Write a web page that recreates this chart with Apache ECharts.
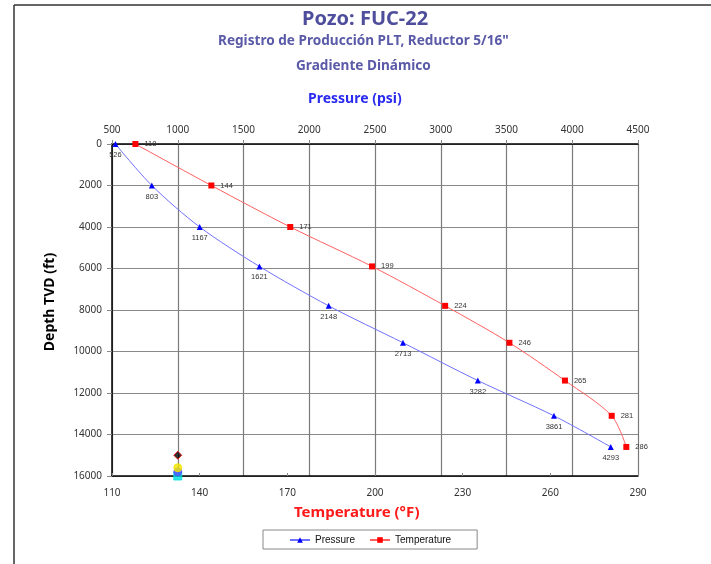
<!DOCTYPE html>
<html>
<head>
<meta charset="utf-8">
<script src="https://cdn.jsdelivr.net/npm/echarts@6/dist/echarts.min.js"></script>
<style>
  html, body { margin: 0; padding: 0; background: #fff; }
  #chart { width: 711px; height: 564px; }
</style>
</head>
<body>
<div id="chart"></div>
<script>
// Survey depths (ft TVD), shared by both logs
const depths = [0, 2000, 4000, 5900, 7800, 9580, 11400, 13100, 14600];
// Flowing pressure (psi) and temperature (°F) at each station
const pressure = [526, 803, 1167, 1621, 2148, 2713, 3282, 3861, 4293];
const temperature = [118, 144, 171, 199, 224, 246, 265, 281, 286];

// Axis ranges / ticks
const pressureTicks = { min: 500, max: 4500, step: 500 };
const tempTicks = { min: 110, max: 290, step: 30 };
const depthTicks = { min: 0, max: 16000, step: 2000 };

// Reference markers at the bottom of the track
const refPressure = [1000, 1000, 1000, 1000];
const refDepth = [15000, 15600, 15800, 16000];
const refColors = ['#000000', '#f2e600', '#5050ff', '#00e0e0'];
const refShapes = ['diamond', 'circle', 'circle', 'rect'];

const font = 'Noto Sans';
const plain = v => String(v);
const chart = echarts.init(document.getElementById('chart'));

const pData = pressure.map((p, i) => [p, depths[i]]);
const tData = temperature.map((t, i) => [t, depths[i]]);

const refSeries = refPressure.map((p, i) => ({
  type: 'scatter',
  xAxisIndex: 0,
  yAxisIndex: 0,
  data: [[p, refDepth[i]]],
  symbol: refShapes[i],
  symbolSize: 8,
  itemStyle: { color: refColors[i], borderColor: i === 0 ? '#ff0000' : refColors[i], borderWidth: 1 },
  silent: true,
  z: 5 - i
}));

chart.setOption({
  animation: false,
  backgroundColor: '#ffffff',
  textStyle: { fontFamily: font },
  grid: { left: 112, top: 144, width: 526, height: 332, containLabel: false },
  graphic: [
    { type: 'line', shape: { x1: 14, y1: 5, x2: 711, y2: 5 }, style: { stroke: '#333', lineWidth: 1.5 } },
    { type: 'line', shape: { x1: 14, y1: 5, x2: 14, y2: 564 }, style: { stroke: '#333', lineWidth: 1.5 } },
    { type: 'text', left: 302, top: 9, style: { text: 'Pozo: FUC-22', fontFamily: font, fontSize: 20, fontWeight: 'bold', fill: '#4e4e9c' } },
    { type: 'text', left: 218, top: 34, style: { text: 'Registro de Producción PLT, Reductor 5/16"', fontFamily: font, fontSize: 13.6, fontWeight: 'bold', fill: '#5a5aa8' } },
    { type: 'text', left: 296, top: 59, style: { text: 'Gradiente Dinámico', fontFamily: font, fontSize: 13.6, fontWeight: 'bold', fill: '#5a5aa8' } },
    { type: 'text', left: 308, top: 92, style: { text: 'Pressure (psi)', fontFamily: font, fontSize: 14, fontWeight: 'bold', fill: '#2b2bf0' } },
    { type: 'text', left: 294, top: 505, style: { text: 'Temperature (°F)', fontFamily: font, fontSize: 15, fontWeight: 'bold', fill: '#ff1a1a' } },
    { type: 'text', x: 50, y: 302, rotation: Math.PI / 2, style: { text: 'Depth TVD (ft)', fontFamily: font, fontSize: 14, fontWeight: 'bold', fill: '#000', align: 'center', verticalAlign: 'middle' } }
  ],
  legend: {
    left: 263, top: 530,
    itemGap: 14, itemWidth: 20, itemHeight: 7,
    padding: [5, 26, 4, 26],
    borderColor: '#888', borderWidth: 1,
    textStyle: { fontSize: 10, color: '#111', fontFamily: 'Liberation Sans' },
    data: ['Pressure', 'Temperature']
  },
  xAxis: [
    {
      type: 'value', position: 'top',
      min: pressureTicks.min, max: pressureTicks.max, interval: pressureTicks.step,
      axisLine: { show: true, lineStyle: { color: '#000', width: 1.5 } },
      axisTick: { show: true, length: 4, lineStyle: { color: '#888' } },
      axisLabel: { fontSize: 10, color: '#333', margin: 9, formatter: plain },
      splitLine: { show: true, lineStyle: { color: '#7a7a7a', width: 1.2 } }
    },
    {
      type: 'value', position: 'bottom',
      min: tempTicks.min, max: tempTicks.max, interval: tempTicks.step,
      axisLine: { show: true, onZero: false, lineStyle: { color: '#000', width: 1.5 } },
      axisTick: { show: true, inside: true, length: 3, lineStyle: { color: '#888' } },
      axisLabel: { fontSize: 10, color: '#333', margin: 12, formatter: plain },
      splitLine: { show: false }
    }
  ],
  yAxis: {
    type: 'value', inverse: true,
    min: depthTicks.min, max: depthTicks.max, interval: depthTicks.step,
    axisLine: { show: true, onZero: false, lineStyle: { color: '#000', width: 1.5 } },
    axisTick: { show: true, length: 5, lineStyle: { color: '#888' } },
    axisLabel: { fontSize: 10, color: '#333', margin: 10, formatter: plain },
    splitLine: { show: true, lineStyle: { color: '#8a8a8a', width: 1.2 } }
  },
  series: [
    {
      name: 'Pressure', type: 'line', xAxisIndex: 0, yAxisIndex: 0,
      data: pData, smooth: 0.3,
      symbol: 'triangle', symbolSize: 6,
      lineStyle: { color: '#7070ff', width: 1 },
      itemStyle: { color: '#0000ff' },
      label: {
        show: true, position: 'bottom', distance: 4,
        formatter: p => String(p.value[0]),
        fontSize: 7.5, color: '#333', fontFamily: 'Liberation Sans'
      },
      z: 3
    },
    {
      name: 'Temperature', type: 'line', xAxisIndex: 1, yAxisIndex: 0,
      data: tData, smooth: 0.3,
      symbol: 'rect', symbolSize: 6,
      lineStyle: { color: '#ff6060', width: 1 },
      itemStyle: { color: '#ff0000' },
      label: {
        show: true, position: 'right', distance: 6,
        formatter: p => String(p.value[0]),
        fontSize: 7.5, color: '#333', fontFamily: 'Liberation Sans'
      },
      z: 3
    }
  ].concat(refSeries)
});
</script>
</body>
</html>
